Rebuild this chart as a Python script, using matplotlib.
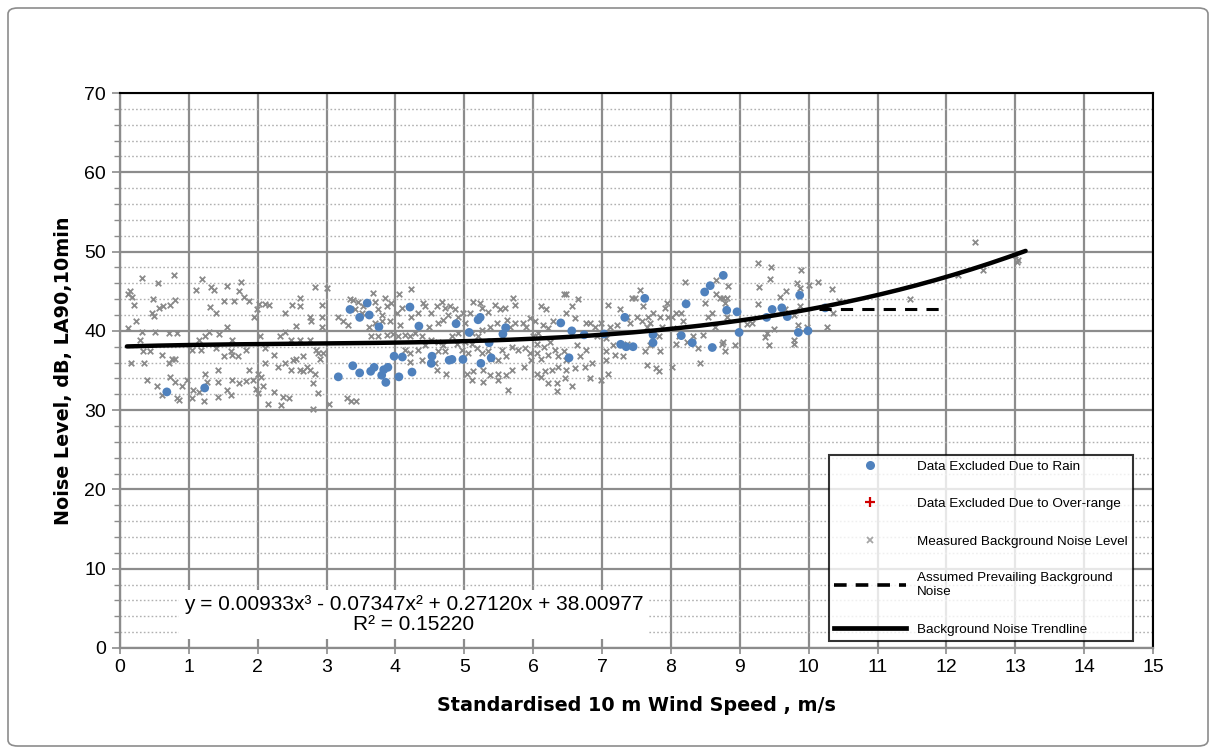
import numpy as np
import matplotlib
matplotlib.use("Agg")
import matplotlib.pyplot as plt
from matplotlib.lines import Line2D
from matplotlib.patches import FancyBboxPatch

# ---------------- data ----------------
rain_x = [0.68, 1.23, 3.34, 3.59, 3.48, 3.62, 3.76, 3.17, 3.38, 3.48, 3.64, 3.69, 3.80, 3.83, 3.86, 3.89,
          3.98, 4.10, 4.05, 4.24, 4.21, 4.34, 4.53, 4.52, 4.78, 4.82, 4.88, 4.98, 5.07, 5.20, 5.23, 5.24,
          5.36, 5.39, 5.56, 5.60, 6.40, 6.56, 6.74, 6.52, 7.03, 7.27, 7.35, 7.45, 7.62, 7.74, 7.74, 7.33,
          8.22, 8.15, 8.31, 8.49, 8.57, 8.76, 8.60, 8.81, 8.96, 8.99, 9.39, 9.47, 9.61, 9.69, 9.87, 9.85,
          9.99, 10.24]
rain_y = [32.3, 32.8, 42.7, 43.5, 41.7, 42.0, 40.5, 34.2, 35.6, 34.7, 34.9, 35.4, 34.4, 35.1, 33.5, 35.4,
          36.8, 36.7, 34.2, 34.8, 43.0, 40.6, 36.8, 35.9, 36.3, 36.4, 40.9, 36.4, 39.8, 41.4, 41.7, 35.9,
          38.5, 36.6, 39.6, 40.4, 41.0, 40.0, 39.5, 36.6, 39.6, 38.3, 38.0, 38.0, 44.1, 39.5, 38.5, 41.7,
          43.4, 39.4, 38.5, 44.9, 45.7, 47.0, 37.9, 42.6, 42.4, 39.8, 41.7, 42.7, 42.9, 41.8, 44.5, 39.8,
          40.0, 42.9]

overrange_x = []
overrange_y = []

bg_x = [0.32, 0.55, 0.79, 0.15, 0.12, 0.17, 0.20, 0.23, 0.12, 0.32, 0.29, 0.34, 0.43, 0.35, 0.16, 0.39,
        0.48, 0.46, 0.49, 0.56, 0.63, 0.73, 0.80, 0.51, 0.71, 0.83, 0.61, 0.76, 0.80, 0.71, 0.73, 0.80,
        0.90, 0.54, 0.61, 0.83, 0.85, 0.98, 1.11, 1.19, 1.32, 1.37, 1.31, 1.40, 1.51, 1.56, 1.65, 1.73,
        1.75, 1.80, 1.88, 1.56, 1.44, 1.29, 1.23, 1.15, 1.05, 1.17, 1.39, 1.51, 1.61, 1.63, 1.71, 1.83,
        1.63, 1.88, 1.42, 1.42, 1.27, 1.63, 1.73, 1.83, 1.93, 1.56, 1.61, 1.42, 1.22, 1.24, 1.06, 1.15,
        1.05, 1.95, 1.99, 2.02, 2.10, 2.17, 2.04, 2.10, 2.24, 2.10, 2.00, 2.05, 1.98, 2.00, 2.07, 2.15,
        2.24, 2.34, 2.37, 2.46, 2.29, 2.39, 2.49, 2.51, 2.61, 2.66, 2.71, 2.76, 2.83, 2.80, 2.88, 2.80,
        2.39, 2.50, 2.56, 2.62, 2.62, 2.76, 2.78, 2.83, 2.93, 2.94, 2.93, 2.32, 2.39, 2.49, 2.61, 2.76,
        2.84, 2.88, 2.90, 2.95, 2.66, 2.56,
        3.00, 3.03, 3.29, 3.36, 3.43, 3.17, 3.24, 3.31, 3.39, 3.34, 3.46, 3.53, 3.41, 3.51, 3.68, 3.70,
        3.85, 3.87, 3.80, 3.75, 3.94, 4.05, 4.23, 4.09, 4.02, 3.92, 3.80, 3.70, 3.61, 3.65, 3.75, 3.87,
        3.97, 4.04, 4.14, 4.21, 4.29, 4.06, 4.23, 4.33, 4.43, 4.40, 4.52, 4.60, 4.67, 4.72, 4.79, 4.77,
        4.69, 4.62, 4.48, 4.38, 4.52, 4.62, 4.69, 4.72, 4.62, 4.43, 4.33, 4.21, 4.14, 4.38, 4.21, 4.60,
        4.57, 4.74, 4.86, 4.91, 4.98, 5.01, 5.08, 5.13, 5.23, 5.25, 5.35, 5.44, 5.52, 5.59, 5.70, 5.73,
        5.62, 5.67, 5.73, 5.85, 5.90, 5.47, 5.37, 5.25, 5.11, 4.91, 4.82, 4.89, 5.01, 5.11, 5.20, 5.18,
        5.25, 5.35, 5.39, 5.49, 5.54, 5.61, 5.69, 5.78, 5.88, 5.95, 5.97, 5.86, 5.69, 5.61, 5.49, 5.37,
        5.27, 5.13, 5.04, 5.11, 5.27, 5.49, 5.64, 4.96, 5.06,
        5.95, 6.02, 6.12, 6.19, 6.14, 6.07, 6.00, 6.22, 6.29, 6.44, 6.48, 6.56, 6.65, 6.48, 6.61, 6.77,
        6.82, 6.05, 6.15, 6.24, 6.31, 6.22, 6.12, 6.05, 6.36, 6.44, 6.48, 6.63, 6.68, 6.77, 6.85, 6.75,
        6.61, 6.48, 6.36, 6.27, 6.17, 6.05, 6.12, 6.22, 6.34, 6.46, 6.34, 6.56, 6.82, 6.99, 7.09, 6.92,
        6.90, 6.99, 7.09, 7.11, 7.21, 7.26, 7.36, 7.40, 7.43, 7.48, 7.55, 7.60, 7.50, 7.58, 7.67, 7.74,
        7.65, 7.69, 7.84, 7.94, 7.91, 7.87, 7.82, 7.96, 7.06, 7.16, 7.06, 7.06, 7.19, 7.31, 7.36, 7.62,
        7.65, 7.79, 7.82, 7.69, 7.84, 8.01, 8.08, 8.15, 8.17, 8.20, 8.03, 8.11, 8.23, 8.08, 8.01, 8.32,
        8.40, 8.42, 8.47, 8.49, 8.54, 8.64, 8.66, 8.71, 8.76, 8.83, 8.79, 8.81, 8.74, 8.76, 8.79, 8.59,
        8.81, 8.66,
        8.93, 9.10, 9.17, 9.26, 9.45, 9.28, 9.44, 9.26, 9.59, 9.67, 9.39, 9.37, 9.43, 9.50, 9.78, 9.79,
        9.83, 9.89, 9.88, 10.01, 10.14, 10.34, 9.84, 9.97, 9.78, 9.88, 10.26, 10.35, 10.44, 11.47, 9.66, 9.61,
        12.42, 12.17, 12.53, 13.03, 13.04, 12.99]
bg_y = [46.7, 46.0, 47.1, 45.0, 44.6, 44.3, 43.2, 41.2, 40.3, 39.9, 38.9, 37.4, 37.4, 35.9, 35.9, 33.8,
        44.0, 42.2, 41.9, 42.9, 43.1, 43.3, 43.9, 39.8, 39.7, 39.7, 37.0, 36.5, 36.4, 35.9, 34.2, 33.6,
        33.0, 33.0, 31.9, 31.5, 31.3, 33.8, 45.2, 46.5, 45.5, 45.2, 43.0, 42.2, 43.8, 45.6, 43.8, 45.0,
        46.2, 44.3, 43.8, 40.5, 39.6, 39.8, 39.4, 38.9, 37.6, 37.6, 37.8, 36.8, 37.4, 37.0, 36.8, 37.6,
        38.9, 35.1, 35.1, 33.6, 33.6, 33.8, 33.4, 33.7, 33.8, 32.5, 31.9, 31.7, 31.1, 34.6, 32.6, 32.3,
        31.5, 41.8, 42.7, 43.4, 43.4, 43.2, 39.3, 37.8, 37.0, 35.9, 34.6, 34.2, 32.7, 32.1, 33.0, 30.8,
        32.3, 30.6, 31.7, 31.5, 35.5, 35.9, 35.1, 36.3, 35.1, 34.9, 35.5, 35.1, 34.6, 33.4, 32.1, 30.1,
        42.2, 43.3, 40.6, 44.1, 43.1, 41.8, 41.2, 45.5, 43.3, 41.8, 40.5, 39.3, 39.8, 38.9, 38.9, 38.9,
        37.6, 37.2, 36.5, 37.2, 36.8, 36.5,
        45.4, 30.8, 31.5, 31.1, 31.1, 41.8, 41.2, 40.8, 43.9, 44.0, 43.7, 43.1, 42.7, 42.2, 44.8, 43.7,
        44.1, 43.1, 42.0, 42.7, 43.5, 44.6, 45.3, 42.9, 42.2, 41.2, 41.2, 41.0, 40.5, 39.3, 39.3, 39.5,
        39.6, 39.3, 39.5, 39.3, 39.7, 40.8, 41.8, 42.2, 43.1, 43.5, 42.2, 43.1, 43.6, 42.9, 43.1, 42.0,
        41.4, 41.0, 40.5, 39.3, 38.9, 38.6, 38.2, 37.4, 37.4, 38.2, 37.6, 37.2, 37.6, 36.3, 36.1, 35.1,
        35.9, 34.6, 42.7, 41.8, 42.3, 41.0, 42.3, 43.7, 43.5, 42.9, 42.4, 43.3, 42.7, 42.9, 44.1, 43.3,
        41.4, 40.5, 41.0, 41.0, 40.5, 41.0, 40.5, 40.1, 39.7, 39.7, 39.3, 38.4, 38.6, 38.4, 39.3, 37.8,
        37.2, 37.4, 36.5, 36.3, 37.6, 36.8, 38.0, 37.6, 37.8, 37.2, 36.3, 35.5, 35.1, 34.4, 34.6, 34.4,
        35.1, 34.9, 34.6, 33.8, 33.6, 33.8, 32.5, 37.6, 37.2,
        41.6, 41.2, 43.1, 42.7, 40.8, 39.7, 39.3, 40.3, 41.2, 44.6, 44.6, 43.1, 44.0, 42.2, 41.6, 41.0,
        41.0, 38.4, 38.0, 38.6, 37.6, 37.0, 36.5, 37.2, 36.8, 37.4, 36.3, 38.2, 36.8, 37.6, 35.9, 35.5,
        35.3, 35.1, 35.5, 35.1, 34.9, 34.6, 34.2, 33.4, 33.4, 34.0, 32.4, 33.0, 34.0, 33.8, 34.6, 39.3,
        40.5, 41.0, 43.2, 40.5, 40.7, 42.7, 41.8, 41.0, 44.1, 44.1, 45.2, 43.1, 41.8, 41.2, 41.8, 42.3,
        40.5, 41.0, 41.8, 43.5, 42.9, 40.5, 39.3, 41.8, 39.1, 38.2, 37.4, 36.3, 37.0, 36.8, 38.4, 37.4,
        35.7, 35.3, 34.9, 38.2, 37.4, 41.8, 42.2, 42.3, 41.2, 46.2, 40.3, 39.3, 38.6, 38.4, 35.5, 39.3,
        37.8, 35.9, 39.5, 43.5, 41.8, 40.5, 44.6, 44.1, 44.1, 45.6, 43.5, 44.1, 38.4, 38.6, 37.4, 42.3,
        41.8, 46.4,
        38.2, 40.9, 41.0, 48.5, 48.1, 45.5, 46.5, 43.4, 44.3, 45.0, 39.7, 39.2, 38.2, 40.2, 38.9, 38.4,
        46.0, 47.7, 45.4, 45.8, 46.1, 45.3, 40.8, 40.5, 42.0, 43.1, 40.5, 42.2, 43.8, 44.0, 42.8, 42.5,
        51.2, 47.1, 47.7, 48.7, 49.0, 49.6]

prevailing_x = [10.15, 12.0]
prevailing_y = [42.8, 42.8]

trend_coeffs = [0.00933, -0.07347, 0.27120, 38.00977]   # as printed on the chart
trend_range = [0.1, 13.15]

x_ticks = list(range(0, 16))
y_ticks = list(range(0, 71, 10))

equation_text = "y = 0.00933x\u00b3 - 0.07347x\u00b2 + 0.27120x + 38.00977\nR\u00b2 = 0.15220"

# ---------------- plot ----------------
plt.rcParams['font.family'] = ['Liberation Sans', 'DejaVu Sans']

fig = plt.figure(figsize=(12.16, 7.54), dpi=100)
ax = fig.add_axes([120/1216, 1 - 648/754, (1153-120)/1216, (648-93)/754])

grid_col = '#8c8c8c'
ax.set_xlim(0, 15)
ax.set_ylim(0, 70)
ax.set_xticks(x_ticks)
ax.set_yticks(y_ticks)
ax.set_yticks(np.arange(0, 71, 2), minor=True)
ax.grid(True, which='major', color=grid_col, lw=1.6)
ax.yaxis.grid(True, which='minor', color='#b0b0b0', lw=1.0, ls=(0, (1.2, 1.6)))
ax.set_axisbelow(True)

ax.tick_params(axis='x', which='major', direction='inout', length=8, width=1.2, color=grid_col,
               labelsize=14, pad=4)
ax.tick_params(axis='y', which='major', direction='out', length=6, width=1.2, color=grid_col,
               labelsize=14, pad=4)
ax.tick_params(axis='y', which='minor', direction='out', length=4, width=1.0, color=grid_col)

for s in ['left', 'bottom']:
    ax.spines[s].set_color(grid_col)
    ax.spines[s].set_linewidth(1.6)
for s in ['top', 'right']:
    ax.spines[s].set_color('black')
    ax.spines[s].set_linewidth(1.5)

# scatter series
ax.scatter(bg_x, bg_y, marker='x', s=16, color='#8a8a8a', linewidths=1.3, zorder=3,
           label='Measured Background Noise Level')
ax.scatter(rain_x, rain_y, marker='o', s=40, color='#4f81bd', edgecolors='none', zorder=4,
           label='Data Excluded Due to Rain')
ax.scatter(overrange_x, overrange_y, marker='+', s=30, color='#d00000', zorder=4,
           label='Data Excluded Due to Over-range')

ax.plot(prevailing_x, prevailing_y, color='black', lw=2.2, ls=(0, (4, 3)), zorder=5)
tx = np.linspace(trend_range[0], trend_range[1], 200)
ax.plot(tx, np.polyval(trend_coeffs, tx), color='black', lw=3.2, solid_capstyle='round', zorder=6)

ax.text(4.27, 4.25, equation_text, ha='center', va='center', multialignment='center', fontsize=15,
        linespacing=1.05, zorder=7,
        bbox=dict(boxstyle='square,pad=0.25', fc='white', ec='none'))

ax.set_xlabel('Standardised 10 m Wind Speed , m/s', fontsize=13.8, fontweight='bold',
              family='DejaVu Sans', labelpad=14)
ax.set_ylabel('Noise Level, dB, LA90,10min', fontsize=13.8, fontweight='bold',
              family='DejaVu Sans', labelpad=8)

handles = [
    Line2D([], [], ls='none', marker='o', ms=6.5, color='#4f81bd', mec='none'),
    Line2D([], [], ls='none', marker='+', ms=6.5, mew=1.6, color='#d00000'),
    Line2D([], [], ls='none', marker='x', ms=4, mew=1.3, color='#a6a6a6'),
    Line2D([], [], color='black', lw=2.6, ls=(0, (3.5, 2.5))),
    Line2D([], [], color='black', lw=3.4),
]
labels = ['Data Excluded Due to Rain', 'Data Excluded Due to Over-range',
          'Measured Background Noise Level', 'Assumed Prevailing Background\nNoise',
          'Background Noise Trendline']
leg = ax.legend(handles, labels, loc='upper left',
                bbox_to_anchor=(829/1216, 1 - 455/754), bbox_transform=fig.transFigure,
                fontsize=9.7, frameon=True, fancybox=False, edgecolor='black',
                handlelength=5.3, handletextpad=0.8, labelspacing=1.85, borderpad=0.4,
                borderaxespad=0)
leg.get_frame().set_linewidth(1.5)
leg.set_zorder(10)

fig.patches.append(FancyBboxPatch((8/1216, 8/754), 1200/1216, 738/754,
                                  boxstyle='round,pad=0,rounding_size=0.008',
                                  transform=fig.transFigure, fc='none', ec='#8c8c8c', lw=1.2))

fig.savefig('out.png', dpi=100)
